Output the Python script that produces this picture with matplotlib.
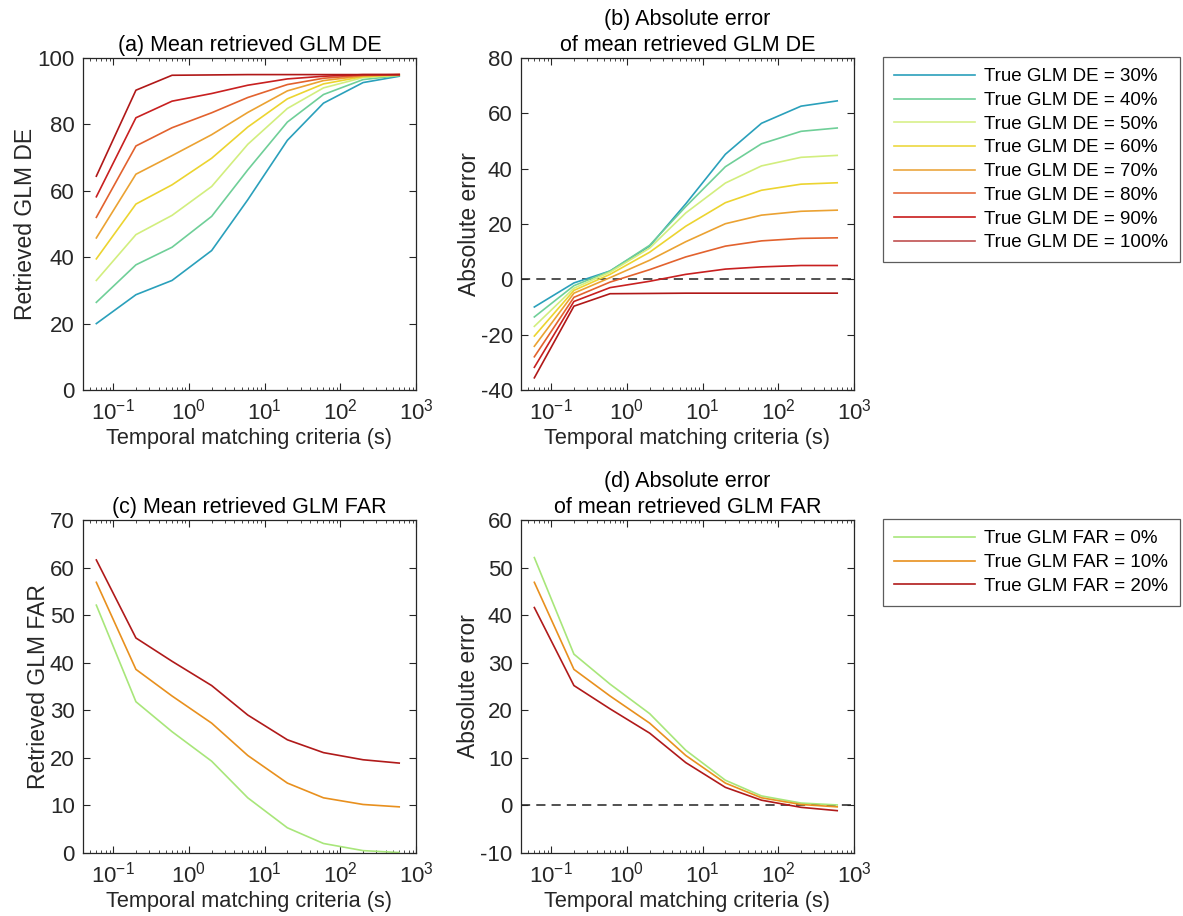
import numpy as np
import matplotlib
matplotlib.use('Agg')
import matplotlib.pyplot as plt
from matplotlib.ticker import LogLocator, NullFormatter

plt.rcParams['font.family'] = ['Liberation Sans', 'DejaVu Sans']
plt.rcParams['axes.unicode_minus'] = False
plt.rcParams['mathtext.fontset'] = 'custom'
plt.rcParams['mathtext.rm'] = 'Liberation Sans'
plt.rcParams['mathtext.it'] = 'Liberation Sans'
plt.rcParams['mathtext.default'] = 'regular'

# temporal matching criteria (s)
tmc = [0.06, 0.2, 0.6, 2, 6, 20, 60, 200, 600]

# true detection efficiency (%) and mean retrieved DE for each
true_de = [30, 40, 50, 60, 70, 80, 90, 100]
de_30 = [20.0, 28.7, 33.0, 42.0, 57.3, 75.2, 86.4, 92.6, 94.5]
de_40 = [26.4, 37.7, 43.0, 52.3, 66.3, 80.7, 89.0, 93.5, 94.7]
de_50 = [33.0, 46.8, 52.6, 61.3, 74.0, 84.8, 91.0, 94.1, 94.8]
de_60 = [39.5, 56.0, 61.8, 69.8, 79.2, 87.7, 92.2, 94.4, 94.9]
de_70 = [45.8, 65.0, 70.6, 76.9, 83.6, 90.1, 93.2, 94.6, 95.0]
de_80 = [52.0, 73.5, 79.0, 83.5, 88.1, 92.0, 93.9, 94.8, 95.0]
de_90 = [58.2, 82.0, 87.0, 89.3, 91.8, 93.7, 94.5, 95.0, 95.0]
de_100 = [64.4, 90.3, 94.8, 94.9, 95.0, 95.0, 95.0, 95.0, 95.0]
de_curves = [de_30, de_40, de_50, de_60, de_70, de_80, de_90, de_100]
de_colors = ['#2aa0bb', '#6fcf98', '#d8f08a', '#ecd840',
             '#eba740', '#e56a3e', '#c81b1b', '#c05050']
de_line_colors = ['#2aa0bb', '#6fcf98', '#d2ee7e', '#ecd430',
                  '#eba232', '#e2622e', '#c82020', '#b01818']

# true false alarm rate (%) and mean retrieved FAR
true_far = [0, 10, 20]
far_0 = [52.1, 31.8, 25.5, 19.3, 11.6, 5.3, 2.0, 0.5, 0.1]
far_10 = [56.9, 38.6, 33.0, 27.3, 20.5, 14.7, 11.6, 10.2, 9.7]
far_20 = [61.6, 45.2, 40.3, 35.2, 29.0, 23.8, 21.1, 19.6, 18.9]
far_curves = [far_0, far_10, far_20]
far_colors = ['#a8e67a', '#e8901e', '#b01a1a']

fig = plt.figure(figsize=(11.83, 9.16), dpi=100)
W, H = 1183, 916


def make_ax(x0, y0, x1, y1):
    return fig.add_axes([x0 / W, 1 - y1 / H, (x1 - x0) / W, (y1 - y0) / H])


def style(ax, ylim, yticks):
    ax.set_xscale('log')
    ax.set_xlim(0.04, 1000)
    ax.set_ylim(*ylim)
    ax.set_yticks(yticks)
    ax.set_xticks([0.1, 1, 10, 100, 1000])
    ax.set_xticklabels(['$10^{-1}$', '$10^{0}$', '$10^{1}$', '$10^{2}$', '$10^{3}$'])
    ax.xaxis.set_minor_locator(LogLocator(base=10, subs=np.arange(2, 10), numticks=20))
    ax.xaxis.set_minor_formatter(NullFormatter())
    ax.tick_params(which='both', direction='in', top=True, right=True,
                   labelsize=16, colors='#262626', pad=6)
    ax.tick_params(which='major', length=5, width=0.8)
    ax.tick_params(which='minor', length=2.5, width=0.6)
    for s in ax.spines.values():
        s.set_color('#262626')
        s.set_linewidth(0.9)
    ax.set_xlabel('Temporal matching criteria (s)', fontsize=15.7,
                  color='#262626', labelpad=3)


ax_a = make_ax(83, 58, 416, 390)
ax_b = make_ax(521, 58, 854, 390)
ax_c = make_ax(83, 520, 416, 853)
ax_d = make_ax(521, 520, 854, 853)

for vals, t, c, lc in zip(de_curves, true_de, de_colors, de_line_colors):
    ax_a.plot(tmc, vals, color=lc, lw=1.2)
    ax_b.plot(tmc, np.array(vals) - t, color=lc, lw=1.2,
              label='True GLM DE = %d%%' % t)

for vals, t, c in zip(far_curves, true_far, far_colors):
    ax_c.plot(tmc, vals, color=c, lw=1.2)
    ax_d.plot(tmc, np.array(vals) - t, color=c, lw=1.2,
              label='True GLM FAR = %d%%' % t)

for ax in (ax_b, ax_d):
    ax.axhline(0, color='#222222', lw=1.1, ls=(0, (6, 4)), zorder=0)

style(ax_a, (0, 100), range(0, 101, 20))
style(ax_b, (-40, 80), range(-40, 81, 20))
style(ax_c, (0, 70), range(0, 71, 10))
style(ax_d, (-10, 60), range(-10, 61, 10))

ax_a.set_title('(a) Mean retrieved GLM DE', fontsize=15.5, pad=5)
ax_b.set_title('(b) Absolute error\nof mean retrieved GLM DE', fontsize=15.5, pad=5,
               linespacing=1.3)
ax_c.set_title('(c) Mean retrieved GLM FAR', fontsize=15.5, pad=5)
ax_d.set_title('(d) Absolute error\nof mean retrieved GLM FAR', fontsize=15.5, pad=5,
               linespacing=1.3)

ax_a.set_ylabel('Retrieved GLM DE', fontsize=16.5, color='#262626', labelpad=0)
ax_b.set_ylabel('Absolute error', fontsize=16.5, color='#262626', labelpad=0)
ax_c.set_ylabel('Retrieved GLM FAR', fontsize=16.5, color='#262626', labelpad=0)
ax_d.set_ylabel('Absolute error', fontsize=16.5, color='#262626', labelpad=0)

# legends with their own colours (DE legend colours differ slightly from lines)
h_b, l_b = ax_b.get_legend_handles_labels()
for h, c in zip(h_b, de_colors):
    h.set_color(c)
leg1 = fig.legend(h_b, l_b, loc='upper left', bbox_to_anchor=(883 / W, 1 - 57 / H),
                  fontsize=13.5, frameon=True, fancybox=False, edgecolor='#333333',
                  handlelength=4.3, handletextpad=0.5, labelspacing=0.35,
                  borderpad=0.6, borderaxespad=0)
leg1.get_frame().set_linewidth(0.9)
for h, c in zip(h_b, de_line_colors):
    h.set_color(c)

h_d, l_d = ax_d.get_legend_handles_labels()
leg2 = fig.legend(h_d, l_d, loc='upper left', bbox_to_anchor=(883 / W, 1 - 519 / H),
                  fontsize=13.5, frameon=True, fancybox=False, edgecolor='#333333',
                  handlelength=4.3, handletextpad=0.5, labelspacing=0.35,
                  borderpad=0.6, borderaxespad=0)
leg2.get_frame().set_linewidth(0.9)

fig.savefig('out.png', dpi=100)
